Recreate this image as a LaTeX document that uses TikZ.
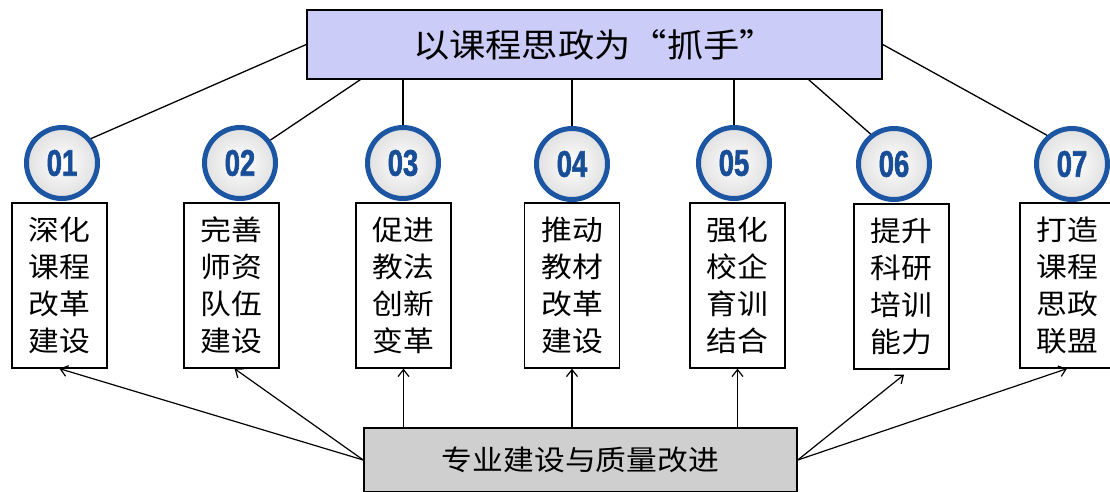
\documentclass[tikz,border=0pt]{standalone}
\usepackage{fontspec}
\newfontfamily\cjk{Noto Sans CJK SC}[FakeStretch=1.1]
\newfontfamily\numfont{Liberation Sans}[FakeStretch=0.74, BoldFeatures={FakeBold=1.6}]
\usetikzlibrary{arrows.meta}
\definecolor{topfill}{RGB}{204,204,248}
\definecolor{botfill}{RGB}{207,207,207}
\definecolor{ringblue}{RGB}{28,86,163}
\definecolor{numblue}{RGB}{24,78,152}
\begin{document}
\begin{tikzpicture}[x=1pt,y=-1pt,
  topbox/.style={draw, line width=1.5pt, fill=topfill, minimum width=575pt, minimum height=69pt, inner sep=0pt, font=\cjk\fontsize{33}{38}\selectfont},
  botbox/.style={draw, line width=1.5pt, fill=botfill, minimum width=433pt, minimum height=64pt, inner sep=0pt, font=\cjk\fontsize{28}{34}\selectfont},
  itembox/.style={draw, line width=1.3pt, fill=white, minimum width=95pt, minimum height=165pt, inner sep=0pt, align=center, font=\cjk\fontsize{28}{37}\selectfont},
  numcirc/.style={circle, draw=ringblue, line width=5pt, minimum size=71pt, inner sep=0pt, shade, inner color=white, outer color=black!12, text=numblue, font=\numfont\bfseries\fontsize{37}{37}\selectfont},
  link/.style={line width=1.3pt},
  arr/.style={line width=1.2pt, -{Straight Barb[length=7pt,width=11pt]}}
]
\useasboundingbox (0,0) rectangle (1110,491);
\fill[white] (0,0) rectangle (1110,491);

% boxes
\node[topbox] (top) at (594.5,44.5) {以课程思政为“抓手”};
\node[botbox] (bot) at (580.5,460) {专业建设与质量改进};

\node[itembox] (b1) at (59.5,285.5) {深化\\课程\\改革\\建设};
\node[itembox] (b2) at (231.5,285.5) {完善\\师资\\队伍\\建设};
\node[itembox] (b3) at (403.5,285.5) {促进\\教法\\创新\\变革};
\node[itembox] (b4) at (572,285.5) {推动\\教材\\改革\\建设};
\node[itembox] (b5) at (737.5,285.5) {强化\\校企\\育训\\结合};
\node[itembox] (b6) at (901.5,286.5) {提升\\科研\\培训\\能力};
\node[itembox] (b7) at (1067.5,285.5) {打造\\课程\\思政\\联盟};

% number circles
\node[numcirc] (c1) at (62,163) {01};
\node[numcirc] (c2) at (240,163) {02};
\node[numcirc] (c3) at (403,163) {03};
\node[numcirc] (c4) at (572,164) {04};
\node[numcirc] (c5) at (734,163) {05};
\node[numcirc] (c6) at (894,164) {06};
\node[numcirc] (c7) at (1072,164) {07};

% links from top box to circles
\draw[link] (top.west) -- (c1.40);
\draw[link] ([xshift=54pt]top.south west) -- (c2.37);
\draw[link] (c3.north |- top.south) -- (c3.north);
\draw[link] (c4.north |- top.south) -- (c4.north);
\draw[link] (c5.north |- top.south) -- (c5.north);
\draw[link] ([xshift=-74pt]top.south east) -- (c6.128);
\draw[link] (top.east) -- (c7.131);

% arrows from bottom box to item boxes
\draw[arr] (bot.west) -- (b1.south);
\draw[arr] (bot.west) -- ([xshift=3pt]b2.south);
\draw[arr] (b3.south |- bot.north) -- (b3.south);
\draw[arr] (b4.south |- bot.north) -- (b4.south);
\draw[arr] (b5.south |- bot.north) -- (b5.south);
\draw[arr] (bot.east) -- ([xshift=2.5pt,yshift=-5pt]b6.south);
\draw[arr] (bot.east) -- ([xshift=-0.5pt]b7.south);
\end{tikzpicture}
\end{document}
